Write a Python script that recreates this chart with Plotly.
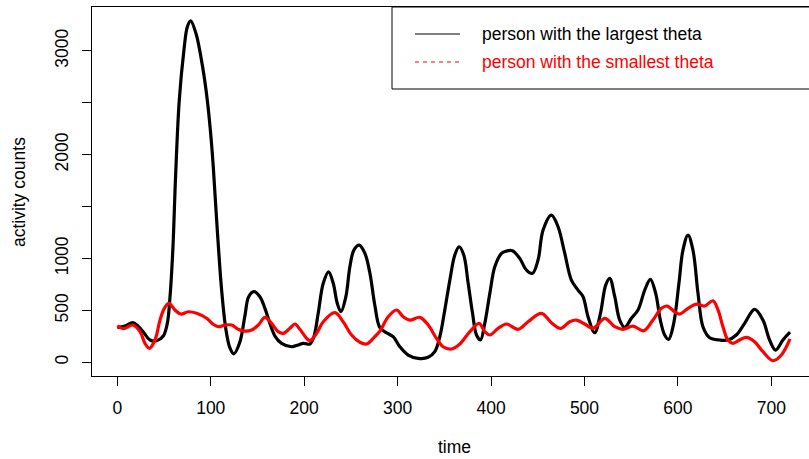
import plotly.graph_objects as go

# person with the largest theta (black)
t_large = [0, 8.2, 17.1, 26.1, 35, 42.1, 49.2, 53.5, 56.4, 59.5, 62.4, 66.3, 71.3, 74.9, 78.5,
           84.2, 91.3, 96.3, 99.9, 102.7, 107, 111.6, 116, 120.5, 124.8, 131, 136.6, 140.5,
           146.2, 152.6, 158, 163.3, 168.7, 175.8, 186.5, 193.6, 199, 206.1, 210.4, 215, 220.4,
           226.1, 231.1, 235.4, 239.3, 244.6, 248.9, 253.2, 258.9, 265, 270.3, 275.6, 281, 288.1,
           295.2, 302.4, 311.3, 322, 332.7, 339.8, 345.2, 350.5, 355.9, 361.2, 365.8, 370.8,
           375.5, 380.2, 384.4, 388.7, 393.3, 398.7, 404, 411.2, 416, 422.9, 430.7, 437.9, 444.3,
           450.3, 455.7, 464.6, 471.7, 478.9, 486, 493.1, 498.5, 503.8, 511, 517.1, 522.7, 527,
           532.4, 537.7, 543.1, 550.2, 557.3, 564.5, 570.5, 576.2, 581.2, 585.8, 590.1, 595.5,
           601.1, 605.4, 610.8, 616.1, 621.5, 626.8, 634, 644.7, 653.5, 662.5, 671.4, 682.1, 691,
           698.1, 704.6, 712.4, 720]
v_large = [337, 349, 381, 311, 215, 208, 253, 375, 632, 1100, 1800, 2525, 3007, 3231, 3289,
           3167, 2846, 2525, 2205, 1883, 1274, 700, 330, 140, 82, 190, 450, 630,
           680, 632, 520, 375, 253, 183, 150, 167, 183, 176, 247, 472, 761,
           872, 761, 568, 487, 632, 920, 1081, 1129, 1049, 860, 550, 335, 285,
           247, 150, 70, 38, 48, 102, 247, 504, 792, 1033, 1113, 1033,
           761, 472, 263, 215, 375, 664, 920, 1049, 1070, 1075, 1001, 889, 857,
           985, 1274, 1418, 1306, 1049, 792, 696, 632, 439, 285, 472, 744, 809,
           632, 407, 337, 424, 504, 696, 799, 664, 407, 263, 221, 375,
           761, 1081, 1226, 1081, 664, 343, 237, 215, 215, 263, 375, 510, 407,
           215, 118, 215, 290]

# person with the smallest theta (red)
t_small = [0, 6.4, 16.5, 24.3, 29.6, 34.3, 40.3, 45.7, 50.3, 55.3, 61.7, 67.8, 76, 84.9, 95.6,
           102.7, 108, 115.2, 122.4, 129.4, 136.6, 143.8, 150.9, 158, 165.1, 172.2, 177.6, 184.7,
           190.1, 195.4, 202.6, 206.1, 213.3, 220.4, 232.9, 241.7, 250.7, 259.6, 266.8, 275.6,
           281, 289.9, 298.9, 305.9, 313.1, 323.8, 332.7, 341.6, 348.7, 357.7, 366.6, 377.3,
           387.2, 393.3, 398.7, 407.5, 416.5, 428.9, 439.6, 453.9, 464.6, 474.3, 484.2, 491.4,
           500.3, 509.2, 521.7, 532.4, 541.2, 551.9, 563.4, 573.3, 582.3, 588.3, 596.5, 601.9,
           610.8, 619.7, 628.6, 637.5, 642.9, 648.2, 653.5, 658.9, 666.1, 673.2, 682.1, 691,
           701.7, 710.7, 720]
v_small = [352, 324, 359, 295, 183, 135, 215, 407, 520, 568, 504, 465, 487, 472, 424,
           366, 343, 359, 359, 318, 300, 311, 359, 433, 375, 295, 279, 327,
           369, 318, 231, 208, 279, 391, 478, 391, 263, 193, 176, 247,
           300, 439, 504, 439, 407, 433, 359, 231, 150, 128, 176, 295,
           375, 295, 263, 327, 369, 318, 391, 472, 381, 327, 391, 407,
           369, 327, 424, 343, 318, 349, 304, 407, 520, 542, 487, 465,
           520, 561, 542, 593, 504, 343, 215, 183, 215, 241, 198, 102,
           15, 70, 225]

x_ticks = [0, 100, 200, 300, 400, 500, 600, 700]
y_ticks = [0, 500, 1000, 1500, 2000, 2500, 3000]
y_ticktext = ["0", "500", "1000", "", "2000", "", "3000"]

legend_labels = ["person with the largest theta", "person with the smallest theta"]

FONT = "Liberation Sans, Arial, Helvetica, sans-serif"
FS = 17.5

fig = go.Figure()
fig.add_trace(go.Scatter(x=t_large, y=v_large, mode="lines",
                         line=dict(color="black", width=3.2, shape="spline", smoothing=1.0),
                         showlegend=False, hoverinfo="skip"))
fig.add_trace(go.Scatter(x=t_small, y=v_small, mode="lines",
                         line=dict(color="#ff0000", width=3.2, shape="spline", smoothing=1.0),
                         showlegend=False, hoverinfo="skip"))

L, R, T, B = 92, 0, 7, 83
W, H = 809, 459
pw, ph = W - L - R, H - T - B

def px_x(p):
    return (p - L) / pw

def px_y(p):
    return (H - B - p) / ph

shapes = [
    # legend box
    dict(type="rect", xref="paper", yref="paper", x0=px_x(392), x1=px_x(830), y0=px_y(89), y1=px_y(7),
         line=dict(color="black", width=1), fillcolor="white", layer="above"),
    dict(type="line", xref="paper", yref="paper", x0=px_x(415), x1=px_x(460), y0=px_y(34), y1=px_y(34),
         line=dict(color="black", width=1.2)),
    dict(type="line", xref="paper", yref="paper", x0=px_x(415), x1=px_x(460), y0=px_y(62), y1=px_y(62),
         line=dict(color="#ff0000", width=1.2, dash="4px,4px")),
]

annotations = [
    dict(text=legend_labels[0], xref="paper", yref="paper", x=px_x(480), y=px_y(34),
         xanchor="left", yanchor="middle", showarrow=False, font=dict(size=FS, color="black", family=FONT)),
    dict(text=legend_labels[1], xref="paper", yref="paper", x=px_x(480), y=px_y(62),
         xanchor="left", yanchor="middle", showarrow=False, font=dict(size=FS, color="#ff0000", family=FONT)),
    dict(text="time", xref="paper", yref="paper", x=px_x(454), y=px_y(447),
         xanchor="center", yanchor="middle", showarrow=False, font=dict(size=FS, color="black", family=FONT)),
    dict(text="activity counts", xref="paper", yref="paper", x=px_x(19), y=px_y(192), textangle=-90,
         xanchor="center", yanchor="middle", showarrow=False, font=dict(size=FS, color="black", family=FONT)),
]

fig.update_layout(
    width=W, height=H,
    margin=dict(l=L, r=R, t=T, b=B, pad=0),
    paper_bgcolor="white", plot_bgcolor="white",
    font=dict(family=FONT, size=FS, color="black"),
    shapes=shapes, annotations=annotations,
    xaxis=dict(range=[-27.1, 740.3], tickvals=x_ticks, ticks="outside", ticklen=9, tickwidth=1,
               tickcolor="black", showgrid=False, zeroline=False, showline=True, mirror=True,
               linecolor="black", linewidth=1, ticklabelstandoff=7, tickfont=dict(size=FS)),
    yaxis=dict(range=[-132, 3423], tickvals=y_ticks, ticktext=y_ticktext, ticks="outside", ticklen=9,
               tickwidth=1, tickcolor="black", showgrid=False, zeroline=False, showline=True,
               mirror=False, linecolor="black", linewidth=1, tickangle=-90, ticklabelstandoff=7,
               tickfont=dict(size=FS)),
)

fig.write_html("out.html")
